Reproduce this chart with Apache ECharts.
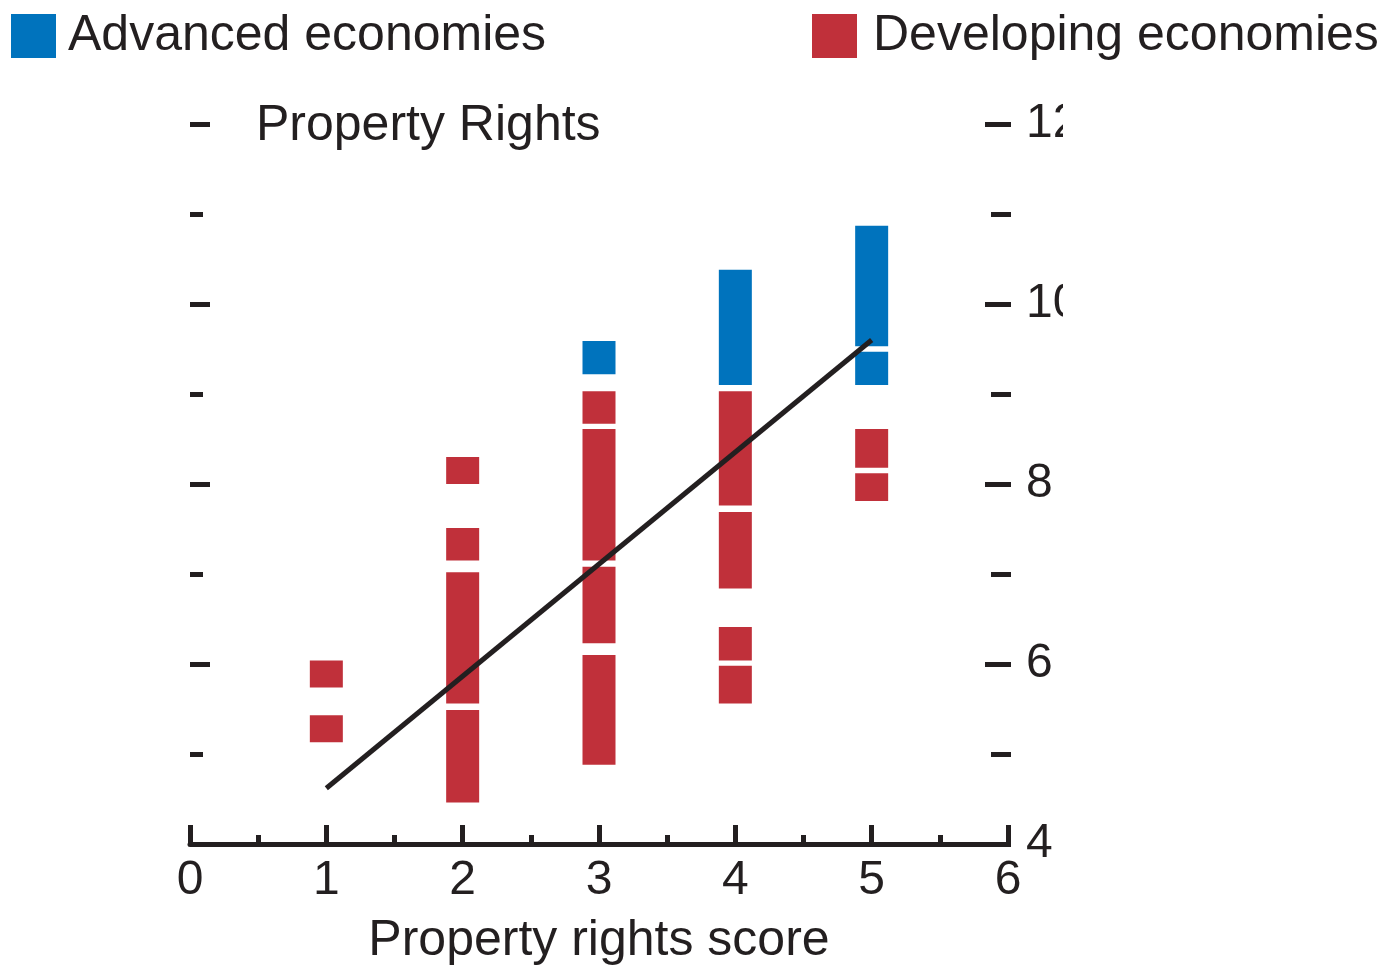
<!DOCTYPE html>
<html>
<head>
<meta charset="utf-8">
<script src="https://cdn.jsdelivr.net/npm/echarts@6/dist/echarts.min.js"></script>
<style>
html,body{margin:0;padding:0;background:#fff;}
#chart{width:1387px;height:967px;}
</style>
</head>
<body>
<div id="chart"></div>
<script>
// ---- data ----
const seriesNames = ['Advanced economies', 'Developing economies'];
const chartTitle = 'Property Rights';
const xAxisName = 'Property rights score';
// segments: [property rights score, low, high]
const advancedSegments = [
  [3, 9.22, 9.59],
  [4, 9.10, 10.38],
  [5, 9.53, 10.87],
  [5, 9.10, 9.47]
];
const developingSegments = [
  [1, 5.74, 6.04],
  [1, 5.13, 5.43],
  [2, 8.00, 8.30],
  [2, 7.15, 7.51],
  [2, 5.56, 7.02],
  [2, 4.46, 5.49],
  [3, 8.67, 9.03],
  [3, 7.15, 8.61],
  [3, 6.23, 7.08],
  [3, 4.88, 6.10],
  [4, 7.76, 9.03],
  [4, 6.84, 7.69],
  [4, 6.04, 6.41],
  [4, 5.56, 5.98],
  [5, 8.18, 8.61],
  [5, 7.81, 8.12]
];
const trendLine = [[1, 4.62], [5, 9.60]];
const xRange = [0, 6];
const yRange = [4, 12];

// ---- styles ----
const INK = '#231f20';
const BLUE = '#0073bd';
const RED = '#c0303a';
const FONT = '"Liberation Sans", Arial, sans-serif';
const BAR_W = 33;

function renderSeg(params, api) {
  const x = api.value(0), lo = api.value(1), hi = api.value(2);
  const top = api.coord([x, hi]);
  const bot = api.coord([x, lo]);
  return {
    type: 'rect',
    shape: { x: top[0] - BAR_W / 2, y: top[1], width: BAR_W, height: bot[1] - top[1] },
    style: { fill: api.visual('color') }
  };
}

const chart = echarts.init(document.getElementById('chart'), null, { renderer: 'canvas' });
chart.setOption({
  animation: false,
  backgroundColor: '#fff',
  textStyle: { fontFamily: FONT },
  title: {
    text: chartTitle, left: 256, top: 101, padding: 0,
    textStyle: { fontSize: 50, fontWeight: 'normal', color: INK, fontFamily: FONT }
  },
  legend: [
    {
      data: [seriesNames[0]], left: 11, top: 11, padding: 0,
      icon: 'rect', itemWidth: 45, itemHeight: 44, selectedMode: false,
      textStyle: { fontSize: 50, color: INK, fontFamily: FONT, padding: [0, 0, 0, 7] }
    },
    {
      data: [seriesNames[1]], left: 812, top: 11, padding: 0,
      icon: 'rect', itemWidth: 45, itemHeight: 44, selectedMode: false,
      textStyle: { fontSize: 50, color: INK, fontFamily: FONT, padding: [0, 0, 0, 11] }
    }
  ],
  grid: { left: 190, right: 379, top: 124, bottom: 123, containLabel: false, outerBoundsMode: 'none' },
  xAxis: {
    type: 'value', min: xRange[0], max: xRange[1], interval: 1,
    name: xAxisName, nameLocation: 'middle', nameGap: 72,
    nameTextStyle: { fontSize: 50, color: INK, fontFamily: FONT },
    axisLine: { show: true, lineStyle: { color: INK, width: 5 } },
    axisTick: { show: true, inside: true, length: 19, lineStyle: { color: INK, width: 5 } },
    minorTick: { show: true, splitNumber: 2, length: 9, lineStyle: { color: INK, width: 5 } },
    splitLine: { show: false },
    axisLabel: { fontSize: 48, color: INK, margin: 13, fontFamily: FONT }
  },
  yAxis: [
    {
      type: 'value', position: 'left', min: yRange[0], max: yRange[1], interval: 2,
      axisLine: { show: false },
      axisTick: { show: true, inside: true, length: 20, lineStyle: { color: INK, width: 5 } },
      minorTick: { show: true, splitNumber: 2, length: 13, lineStyle: { color: INK, width: 5 } },
      axisLabel: { show: false },
      splitLine: { show: false }
    },
    {
      type: 'value', position: 'right', offset: 3, min: yRange[0], max: yRange[1], interval: 2,
      axisLine: { show: false },
      axisTick: { show: true, inside: true, length: 26, lineStyle: { color: INK, width: 5 } },
      minorTick: { show: true, splitNumber: 2, length: 20, lineStyle: { color: INK, width: 5 } },
      axisLabel: { fontSize: 48, color: INK, margin: 15, fontFamily: FONT },
      splitLine: { show: false }
    }
  ],
  series: [
    {
      name: seriesNames[0], type: 'custom', renderItem: renderSeg,
      itemStyle: { color: BLUE }, encode: { x: 0, y: [1, 2] },
      data: advancedSegments, z: 2
    },
    {
      name: seriesNames[1], type: 'custom', renderItem: renderSeg,
      itemStyle: { color: RED }, encode: { x: 0, y: [1, 2] },
      data: developingSegments, z: 2
    },
    {
      name: 'Trend', type: 'line', data: trendLine, symbol: 'none',
      lineStyle: { color: INK, width: 5 }, z: 5, silent: true
    }
  ],
  graphic: [
    {
      type: 'rect', left: 1063, top: 90, z: 100,
      shape: { width: 324, height: 250 },
      style: { fill: '#fff' }
    }
  ]
});
</script>
</body>
</html>
